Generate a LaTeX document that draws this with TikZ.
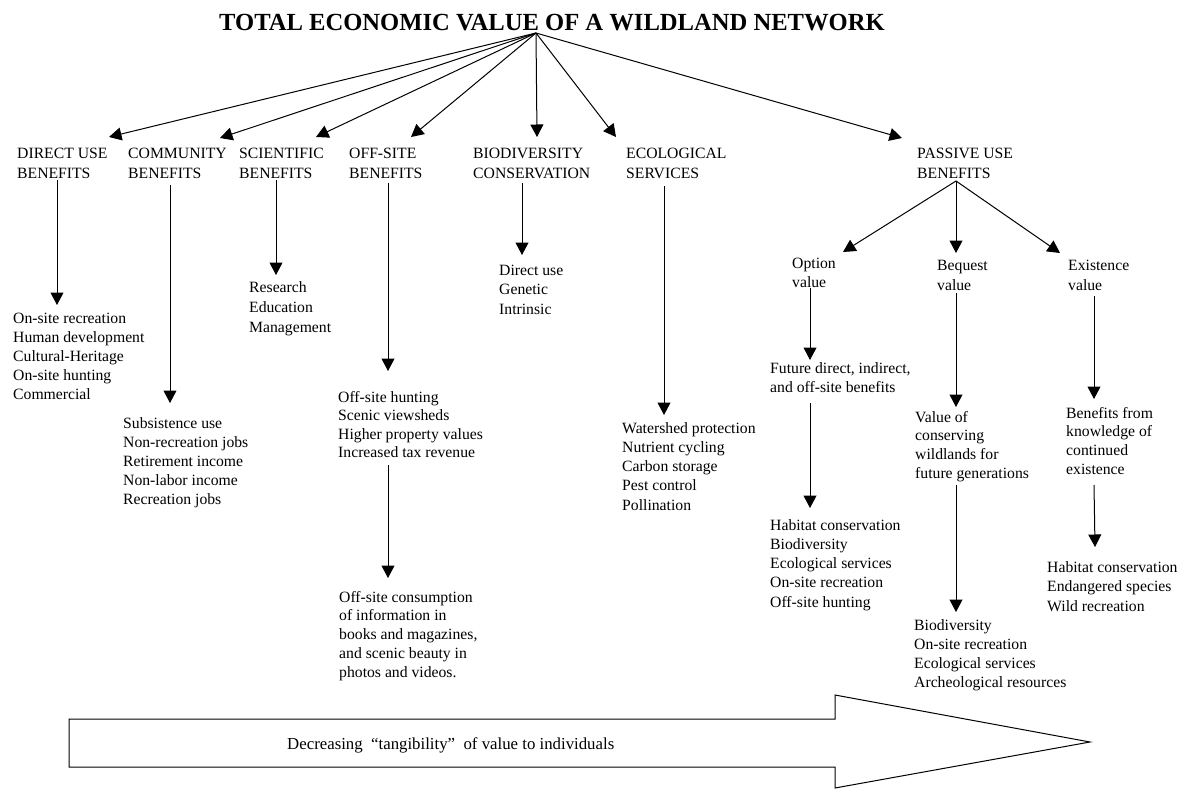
\documentclass[tikz,border=0pt]{standalone}
\usepackage{fontspec}
\setmainfont{Liberation Serif}
\usetikzlibrary{arrows.meta}
\newcommand\mystrut{\rule{0pt}{12pt}}
\begin{document}
\begin{tikzpicture}[x=1pt,y=-1pt,
  lbl/.style={anchor=north west, inner sep=0pt, align=left, font=\fontsize{15.7}{19}\selectfont},
  headlbl/.style={lbl, font=\fontsize{15.7}{20}\selectfont},
  arr/.style={-{Triangle[length=12.5pt,width=13pt]}, line width=1pt},
  plain/.style={line width=1pt}]
\useasboundingbox (0,0) rectangle (1178,789);

% title
\node[inner sep=0pt, font=\bfseries\fontsize{24.6}{28}\selectfont] (title) at (552,23) {TOTAL ECONOMIC VALUE OF A WILDLAND NETWORK};
\coordinate (apex) at (536,33);

% headings
\node[headlbl] (hdirect) at (17,146) {\mystrut DIRECT USE\\BENEFITS};
\node[headlbl] (hcomm) at (128,146) {\mystrut COMMUNITY\\BENEFITS};
\node[headlbl] (hsci) at (239,146) {\mystrut SCIENTIFIC\\BENEFITS};
\node[headlbl] (hoff) at (349,146) {\mystrut OFF-SITE\\BENEFITS};
\node[headlbl] (hbio) at (473,146) {\mystrut BIODIVERSITY\\CONSERVATION};
\node[headlbl] (heco) at (626,146) {\mystrut ECOLOGICAL\\SERVICES};
\node[headlbl] (hpas) at (917,146) {\mystrut PASSIVE USE\\BENEFITS};

% arrow tips at headings
\coordinate (tdirect) at (109,137);
\coordinate (tcomm) at (220,138);
\coordinate (tsci) at (316,137);
\coordinate (toff) at (411,137);
\coordinate (tbio) at (537,137);
\coordinate (teco) at (616,137);
\coordinate (tpas) at (902,138);
\foreach \t in {tdirect,tcomm,tsci,toff,tbio,teco,tpas}
  \draw[arr] (apex) -- (\t);

% lists
\node[lbl] (ldirect) at (13,311) {\mystrut On-site recreation\\Human development\\Cultural-Heritage\\On-site hunting\\Commercial};
\node[lbl] (lcomm) at (123,416) {\mystrut Subsistence use\\Non-recreation jobs\\Retirement income\\Non-labor income\\Recreation jobs};
\node[lbl, font=\fontsize{15.7}{20}\selectfont] (lsci) at (249,280) {\mystrut Research\\Education\\Management};
\node[lbl, font=\fontsize{15.7}{18.5}\selectfont] (loff) at (338,390) {\mystrut Off-site hunting\\Scenic viewsheds\\Higher property values\\Increased tax revenue};
\node[lbl, font=\fontsize{15.7}{18.75}\selectfont] (loff2) at (339,590) {\mystrut Off-site consumption\\of information in\\books and magazines,\\and scenic beauty in\\photos and videos.};
\node[lbl, font=\fontsize{15.7}{19.5}\selectfont] (lbio) at (499,263) {\mystrut Direct use\\Genetic\\Intrinsic};
\node[lbl, font=\fontsize{15.7}{19.25}\selectfont] (leco) at (622,421) {\mystrut Watershed protection\\Nutrient cycling\\Carbon storage\\Pest control\\Pollination};

% passive use sub-items
\node[lbl] (opt) at (792,256) {\mystrut Option\\value};
\node[lbl, font=\fontsize{15.7}{20}\selectfont] (beq) at (937,258) {\mystrut Bequest\\value};
\node[lbl, font=\fontsize{15.7}{20}\selectfont] (exi) at (1068,258) {\mystrut Existence\\value};
\node[lbl] (optd) at (770,361) {\mystrut Future direct, indirect,\\and off-site benefits};
\node[lbl, font=\fontsize{15.7}{19.25}\selectfont] (optl) at (770,518) {\mystrut Habitat conservation\\Biodiversity\\Ecological services\\On-site recreation\\Off-site hunting};
\node[lbl, font=\fontsize{15.7}{18.7}\selectfont] (beqd) at (915,410) {\mystrut Value of\\conserving\\wildlands for\\future generations};
\node[lbl, font=\fontsize{15.7}{18.7}\selectfont] (exid) at (1066,406) {\mystrut Benefits from\\knowledge of\\continued\\existence};
\node[lbl] (beql) at (914,618) {\mystrut Biodiversity\\On-site recreation\\Ecological services\\Archeological resources};
\node[lbl, font=\fontsize{15.7}{19.5}\selectfont] (exil) at (1047,560) {\mystrut Habitat conservation\\Endangered species\\Wild recreation};

% vertical connectors
\coordinate (sdirect) at (57,180);  \coordinate (edirect) at (57,305);
\coordinate (scomm) at (170,185);   \coordinate (ecomm) at (170,403);
\coordinate (ssci) at (276,180);    \coordinate (esci) at (276,275);
\coordinate (soff) at (388,183);    \coordinate (eoff) at (388,371);
\coordinate (soff2) at (388,465);   \coordinate (eoff2) at (388,578);
\coordinate (sbio) at (522,183);    \coordinate (ebio) at (522,255);
\coordinate (seco) at (664,186);    \coordinate (eeco) at (664,415);
\coordinate (papex) at (956,181);
\coordinate (topt) at (843,252);    \coordinate (tbeq) at (956,253);  \coordinate (texi) at (1060,253);
\coordinate (sopt) at (810,288);    \coordinate (eopt) at (810,360);
\coordinate (sopt2) at (810,403);   \coordinate (eopt2) at (810,508);
\coordinate (sbeq) at (956,293);    \coordinate (ebeq) at (956,407);
\coordinate (sbeq2) at (956,485);   \coordinate (ebeq2) at (956,612);
\coordinate (sexi) at (1094,296);   \coordinate (eexi) at (1094,399);
\coordinate (sexi2) at (1094,485);  \coordinate (eexi2) at (1095,547);

\draw[arr] (sdirect) -- (edirect);
\draw[arr] (scomm) -- (ecomm);
\draw[arr] (ssci) -- (esci);
\draw[arr] (soff) -- (eoff);
\draw[arr] (soff2) -- (eoff2);
\draw[arr] (sbio) -- (ebio);
\draw[arr] (seco) -- (eeco);
\draw[arr] (papex) -- (topt);
\draw[arr] (papex) -- (tbeq);
\draw[arr] (papex) -- (texi);
\draw[arr] (sopt) -- (eopt);
\draw[arr] (sopt2) -- (eopt2);
\draw[arr] (sbeq) -- (ebeq);
\draw[arr] (sbeq2) -- (ebeq2);
\draw[arr] (sexi) -- (eexi);
\draw[arr] (sexi2) -- (eexi2);

% bottom block arrow
\draw[plain, line join=miter] (69,719) -- (835,719) -- (835,695) -- (1090,742) -- (835,788) -- (835,767) -- (69,767) -- cycle;
\node[anchor=west, inner sep=0pt, font=\fontsize{16.8}{19}\selectfont] (tang) at (287,745) {Decreasing\ \ “tangibility”\ \ of value to individuals};
\end{tikzpicture}
\end{document}
